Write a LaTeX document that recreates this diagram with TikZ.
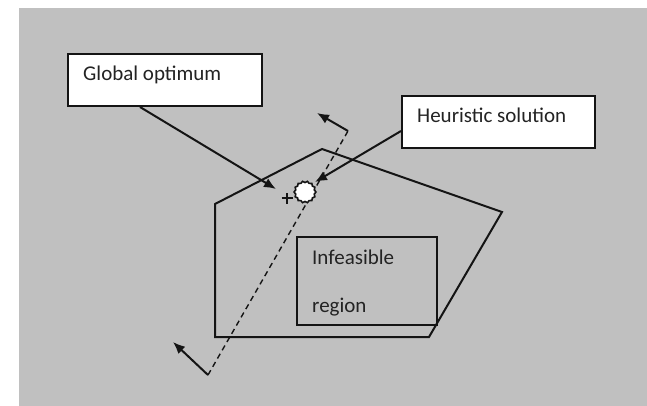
\documentclass[tikz,border=0pt]{standalone}
\usepackage{fontspec}
\setmainfont{Carlito}
\usetikzlibrary{arrows.meta,shapes.geometric}
\definecolor{bggray}{RGB}{192,192,192}
\definecolor{ink}{RGB}{20,20,20}
\definecolor{txt}{RGB}{35,35,35}
\tikzset{
  thick line/.style={line width=2pt, draw=ink},
  box/.style={draw=ink, line width=2pt, fill=white, inner sep=0pt, anchor=north west},
  plainbox/.style={draw=ink, line width=2pt, inner sep=0pt, anchor=north west},
  lbl/.style={font=\fontsize{21}{24}\selectfont, text=txt, inner sep=0pt, anchor=base west},
  tip/.style={-{Latex[length=12pt,width=10pt]}},
  dashline/.style={draw=ink, line width=1.4pt, dash pattern=on 5.5pt off 4pt}
}
\begin{document}
\begin{tikzpicture}[x=1pt,y=-1pt]
\useasboundingbox (0,0) rectangle (647,406);
\fill[white] (0,0) rectangle (647,406);
\fill[bggray] (19,8) rectangle (647,406);

% pentagon (feasible region)
\coordinate (p1) at (215,204);
\coordinate (p2) at (322,149);
\coordinate (p3) at (502,212);
\coordinate (p4) at (429,337);
\coordinate (p5) at (215,337);
\draw[thick line, line join=miter] (p1) -- (p2) -- (p3) -- (p4) -- (p5) -- cycle;

% infeasible region box
\node[plainbox, minimum width=140pt, minimum height=88pt] (inf) at (296,236) {};
\node[lbl] (inft) at (312,264) {Infeasible};
\node[lbl] (infr) at (312,312) {region};

% dashed line with end arrows
\coordinate (d1) at (208,375);
\coordinate (d2) at (348,131);
\coordinate (a1) at (173,342);
\coordinate (a2) at (317,113);
\draw[dashline] (d1) -- (d2);
\draw[thick line, tip] (d1) -- (a1);
\draw[thick line, tip] (d2) -- (a2);

% label boxes
\node[box, minimum width=194pt, minimum height=52pt] (g) at (67,53) {};
\node[lbl] (gt) at (83,81) {Global optimum};
\node[box, minimum width=193pt, minimum height=52pt] (h) at (401,95) {};
\node[lbl] (ht) at (417,123) {Heuristic solution};

% points
\coordinate (plus) at (287,198);
\draw[line width=2.4pt, draw=ink] ([xshift=-5.5pt]plus) -- ([xshift=5.5pt]plus);
\draw[line width=2.4pt, draw=ink] ([yshift=-5.5pt]plus) -- ([yshift=5.5pt]plus);
\node[star, star points=14, star point ratio=0.87, minimum size=19pt, inner sep=0pt,
      draw=ink, line width=1.6pt, fill=white] (hs) at (305,192) {};

% pointer arrows
\coordinate (gtip) at (276,189);
\coordinate (htip) at (315,182);
\draw[thick line, tip] ([xshift=73pt]g.south west) -- (gtip);
\draw[thick line, tip] ([yshift=-9pt]h.west) -- (htip);
\end{tikzpicture}
\end{document}
